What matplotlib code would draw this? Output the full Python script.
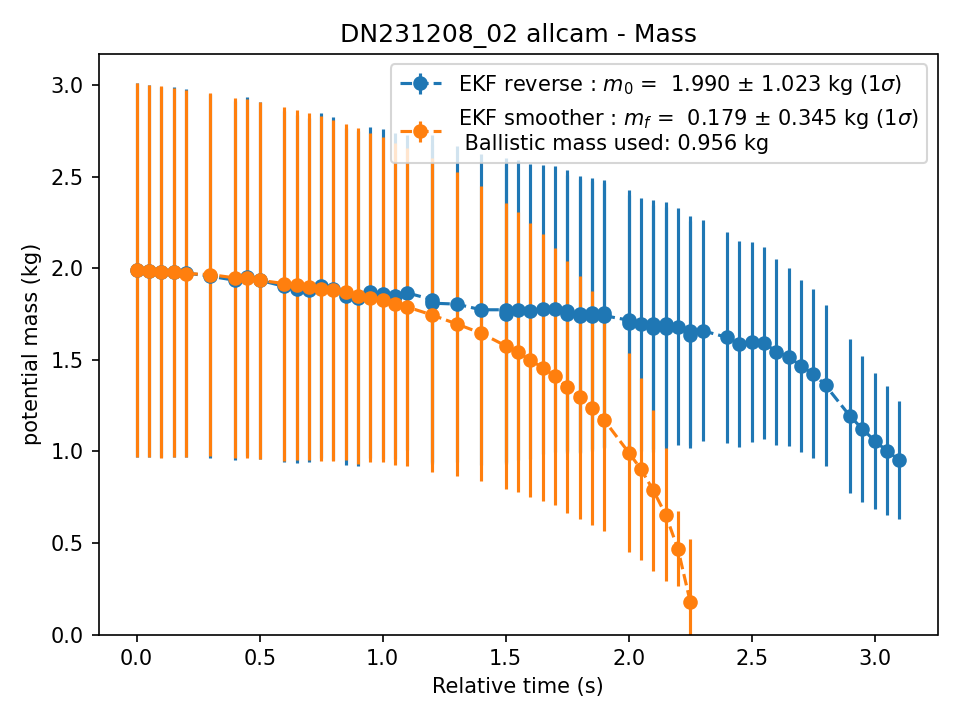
import matplotlib
matplotlib.use("Agg")
import matplotlib.pyplot as plt

# ================= DATA =================
# EKF reverse (some epochs seen by two cameras -> repeated times)
rev_t = [0.0, 0.05, 0.1, 0.15, 0.2, 0.3, 0.4, 0.45, 0.5, 0.6, 0.65, 0.7, 0.75,
         0.8, 0.85, 0.9, 0.95, 1.0, 1.05, 1.1, 1.2, 1.2, 1.3, 1.4, 1.5, 1.5,
         1.55, 1.6, 1.65, 1.7, 1.75, 1.75, 1.8, 1.8, 1.85, 1.85, 1.9, 1.9,
         2.0, 2.0, 2.05, 2.1, 2.1, 2.15, 2.15, 2.2, 2.25, 2.25, 2.3, 2.4,
         2.45, 2.5, 2.55, 2.6, 2.65, 2.7, 2.75, 2.8, 2.9, 2.95, 3.0, 3.05, 3.1]
rev_m = [1.990, 1.985, 1.980, 1.978, 1.975, 1.957, 1.935, 1.954, 1.935, 1.902,
         1.888, 1.880, 1.906, 1.890, 1.847, 1.836, 1.869, 1.860, 1.847, 1.866,
         1.830, 1.810, 1.805, 1.774, 1.774, 1.752, 1.774, 1.765, 1.777, 1.777,
         1.770, 1.752, 1.752, 1.740, 1.755, 1.740, 1.755, 1.742, 1.717, 1.700,
         1.695, 1.695, 1.673, 1.695, 1.675, 1.682, 1.660, 1.638, 1.660, 1.623,
         1.587, 1.600, 1.594, 1.544, 1.517, 1.467, 1.425, 1.361, 1.192, 1.123,
         1.058, 1.003, 0.952]
rev_err = [1.020, 1.015, 1.012, 1.010, 1.005, 0.995, 0.980, 0.980, 0.975, 0.958,
           0.950, 0.940, 0.940, 0.935, 0.920, 0.915, 0.905, 0.900, 0.890, 0.860,
           0.900, 0.870, 0.865, 0.850, 0.830, 0.820, 0.820, 0.805, 0.790, 0.780,
           0.770, 0.760, 0.755, 0.750, 0.740, 0.735, 0.730, 0.725, 0.710, 0.700,
           0.690, 0.680, 0.675, 0.665, 0.660, 0.646, 0.625, 0.620, 0.605, 0.578,
           0.560, 0.546, 0.525, 0.510, 0.486, 0.472, 0.463, 0.440, 0.420, 0.398,
           0.373, 0.352, 0.323]

# EKF smoother
smo_t = [0.0, 0.05, 0.1, 0.15, 0.2, 0.3, 0.4, 0.45, 0.5, 0.6, 0.65, 0.7, 0.75,
         0.8, 0.85, 0.9, 0.95, 1.0, 1.05, 1.1, 1.2, 1.3, 1.4, 1.5, 1.55, 1.6,
         1.65, 1.7, 1.75, 1.8, 1.85, 1.9, 2.0, 2.05, 2.1, 2.15, 2.2, 2.25]
smo_m = [1.990, 1.985, 1.980, 1.978, 1.972, 1.966, 1.948, 1.945, 1.935, 1.917,
         1.910, 1.900, 1.890, 1.880, 1.870, 1.850, 1.840, 1.829, 1.807, 1.789,
         1.746, 1.697, 1.646, 1.577, 1.541, 1.499, 1.458, 1.410, 1.352, 1.297,
         1.238, 1.172, 0.994, 0.903, 0.787, 0.655, 0.468, 0.179]
smo_err = [1.022, 1.016, 1.014, 1.007, 1.002, 0.990, 0.985, 0.980, 0.976, 0.967,
           0.955, 0.947, 0.944, 0.930, 0.918, 0.918, 0.900, 0.886, 0.880, 0.870,
           0.857, 0.830, 0.806, 0.780, 0.765, 0.748, 0.729, 0.703, 0.688, 0.664,
           0.637, 0.605, 0.545, 0.497, 0.440, 0.365, 0.205, 0.345]

m0, m0_err = 1.990, 1.023
mf, mf_err = 0.179, 0.345
ballistic_mass = 0.956

# ================= PLOT =================
plt.figure(figsize=(6.4, 4.8), dpi=150)

plt.errorbar(rev_t, rev_m, yerr=rev_err, fmt="o--",
             label=f"EKF reverse : $m_0$ =  {m0:.3f} ± {m0_err:.3f} kg (1$\\sigma$)")
plt.errorbar(smo_t, smo_m, yerr=smo_err, fmt="o--",
             label=f"EKF smoother : $m_f$ =  {mf:.3f} ± {mf_err:.3f} kg (1$\\sigma$)"
                   f"\n Ballistic mass used: {ballistic_mass:.3f} kg")

plt.ylim(bottom=0)
plt.xlabel("Relative time (s)")
plt.ylabel("potential mass (kg)")
plt.title("DN231208_02 allcam - Mass")
plt.legend(loc="upper right")

plt.tight_layout()
plt.savefig("out.png", dpi=150)
